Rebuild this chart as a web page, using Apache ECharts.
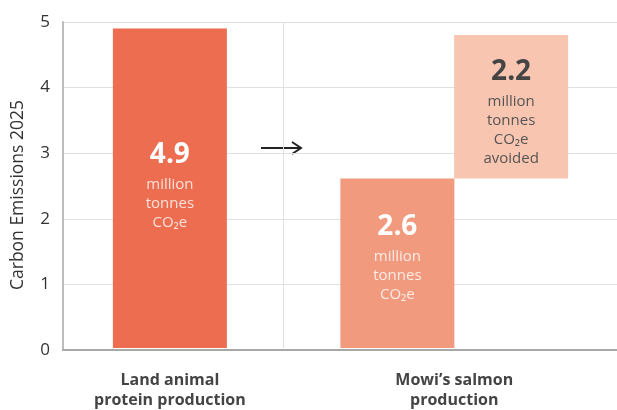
<!DOCTYPE html>
<html>
<head>
<meta charset="utf-8">
<script src="https://cdn.jsdelivr.net/npm/echarts@6/dist/echarts.min.js"></script>
<style>
  html, body { margin: 0; padding: 0; background: #fff; }
  #chart { width: 617px; height: 410px; }
</style>
</head>
<body>
<div id="chart"></div>
<script>
// Carbon emissions 2025, million tonnes CO2e
const categories = ['Land animal\nprotein production', 'Mowi\u2019s salmon\nproduction'];
const landEmissions = [4.9];
const salmonEmissions = [2.6];
const avoidedEmissions = [2.2];
const yTicks = [0, 1, 2, 3, 4, 5];

const FONT = '"Open Sans", Lato, sans-serif';

// The bar grid is split into evenly spaced half-bar slots (no boundary gap).
// Land bar centred on slot 1, band divider on slot 3,
// salmon bar on slot 5, avoided bar on slot 7, salmon label on slot 6.
const SLOT_COUNT = 9;
const landSlot = 1;
const dividerSlot = 3;
const salmonSlot = 5;
const salmonLabelSlot = 6;
const avoidedSlot = 7;
const slotNames = Array.from({ length: SLOT_COUNT }, (_, i) => 's' + i);
const slotLabel = {};
slotLabel[landSlot] = categories[0];
slotLabel[salmonLabelSlot] = categories[1];

function richLabel(value, unitLines, dark) {
  const parts = ['{v|' + value + '}'];
  unitLines.forEach(l => parts.push('{u|' + l + '}'));
  return {
    show: true,
    position: 'inside',
    fontFamily: FONT,
    formatter: parts.join('\n'),
    rich: {
      v: { fontFamily: FONT, fontSize: 28, fontWeight: 'bold', lineHeight: 40,
           color: dark ? '#444444' : '#ffffff', align: 'center' },
      u: { fontFamily: FONT, fontSize: 15, lineHeight: 19,
           color: dark ? '#555555' : 'rgba(255,255,255,0.8)', align: 'center' }
    }
  };
}

const chart = echarts.init(document.getElementById('chart'));
chart.setOption({
  animation: false,
  backgroundColor: '#ffffff',
  grid: [
    { left: 63, right: 0, top: 22, bottom: 60 },
    { left: 113, width: 455, top: 22, bottom: 60 }
  ],
  xAxis: [
    {
      gridIndex: 0, type: 'value', min: 0, max: 1,
      axisLine: { show: true, lineStyle: { color: '#a8a8a8', width: 2 } },
      axisTick: { show: false }, axisLabel: { show: false }, splitLine: { show: false }
    },
    {
      gridIndex: 1, type: 'category', boundaryGap: false, data: slotNames,
      axisLine: { show: false }, axisTick: { show: false },
      splitLine: {
        show: true,
        interval: idx => idx === dividerSlot,
        lineStyle: { color: '#e0e0e0', width: 1 }
      },
      axisLabel: {
        interval: 0,
        margin: 22,
        fontFamily: FONT, fontSize: 16, fontWeight: 'bold', lineHeight: 20,
        color: '#444444', verticalAlign: 'top',
        formatter: (v, idx) => slotLabel[idx] || ''
      }
    }
  ],
  yAxis: [
    {
      gridIndex: 0, type: 'value', min: yTicks[0], max: yTicks[yTicks.length - 1], interval: 1,
      name: 'Carbon Emissions 2025', nameLocation: 'middle', nameGap: 36,
      nameTextStyle: { fontFamily: FONT, fontSize: 17.5, color: '#333333', padding: [0, 18, 0, 0] },
      axisLine: { show: true, lineStyle: { color: '#bdbdbd', width: 2 } },
      axisTick: { show: false },
      axisLabel: { fontFamily: FONT, fontSize: 17, color: '#333333', margin: 13 },
      splitLine: { show: true, lineStyle: { color: '#e0e0e0', width: 1 } }
    },
    {
      gridIndex: 1, type: 'value', min: yTicks[0], max: yTicks[yTicks.length - 1], show: false
    }
  ],
  graphic: [
    {
      type: 'polyline', silent: true,
      shape: { points: [[261, 148], [301, 148]] },
      style: { stroke: '#222222', lineWidth: 2, fill: null }
    },
    {
      type: 'polyline', silent: true,
      shape: { points: [[292, 142], [301, 148], [292, 154]] },
      style: { stroke: '#222222', lineWidth: 2, fill: null }
    }
  ],
  series: [
    {
      name: 'Land animal protein production', type: 'bar',
      xAxisIndex: 1, yAxisIndex: 1,
      barWidth: 114, barGap: '-100%',
      data: landEmissions.map(v => [landSlot, v]),
      itemStyle: { color: '#EC6D4F' },
      label: Object.assign(richLabel(landEmissions[0], ['million', 'tonnes', 'CO\u2082e'], false), { offset: [0, -5] })
    },
    {
      name: 'Mowi salmon production', type: 'bar',
      xAxisIndex: 1, yAxisIndex: 1,
      barWidth: 114, barGap: '-100%',
      data: salmonEmissions.map(v => [salmonSlot, v]),
      itemStyle: { color: '#F29A7E' },
      label: Object.assign(richLabel(salmonEmissions[0], ['million', 'tonnes', 'CO\u2082e'], false), { offset: [0, -8] })
    },
    {
      name: 'base', type: 'bar', stack: 'avoided',
      xAxisIndex: 1, yAxisIndex: 1,
      barWidth: 114, barGap: '-100%', silent: true,
      data: salmonEmissions.map(v => [avoidedSlot, v]),
      itemStyle: { color: 'rgba(0,0,0,0)' }
    },
    {
      name: 'Avoided', type: 'bar', stack: 'avoided',
      xAxisIndex: 1, yAxisIndex: 1,
      barWidth: 114, barGap: '-100%',
      data: avoidedEmissions.map(v => [avoidedSlot, v]),
      itemStyle: { color: '#F8C5B1' },
      label: Object.assign(richLabel(avoidedEmissions[0], ['million', 'tonnes', 'CO\u2082e', 'avoided'], true), { offset: [0, 3] })
    }
  ]
});
</script>
</body>
</html>
